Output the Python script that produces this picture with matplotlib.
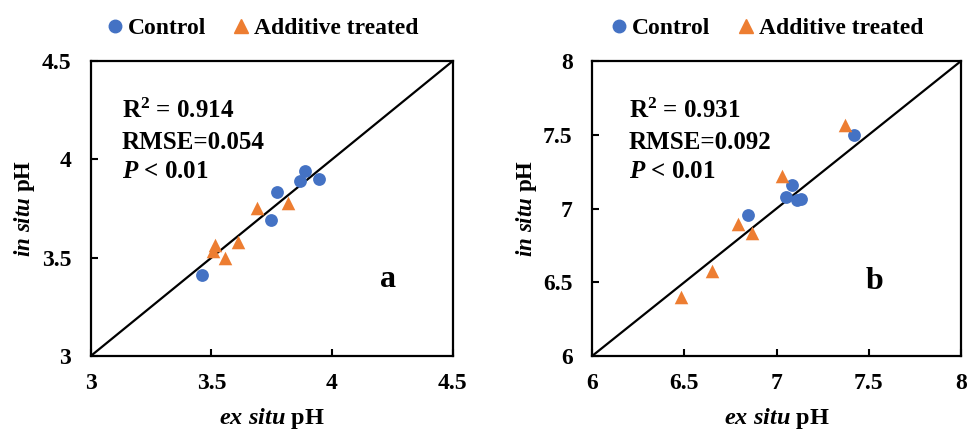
import matplotlib
matplotlib.use("Agg")
import matplotlib.pyplot as plt
from matplotlib.lines import Line2D

plt.rcParams['font.family'] = ['Liberation Serif', 'DejaVu Serif']
plt.rcParams['font.weight'] = 'bold'
plt.rcParams['mathtext.fontset'] = 'custom'
plt.rcParams['mathtext.rm'] = 'Liberation Serif:bold'
plt.rcParams['mathtext.it'] = 'Liberation Serif:bold:italic'
plt.rcParams['mathtext.bf'] = 'Liberation Serif:bold'

# Panel a data
a_ctrl_x = [3.46, 3.771, 3.746, 3.867, 3.888, 3.947]
a_ctrl_y = [3.412, 3.832, 3.691, 3.891, 3.940, 3.900]
a_add_x = [3.515, 3.505, 3.557, 3.609, 3.688, 3.819]
a_add_y = [3.565, 3.535, 3.497, 3.578, 3.754, 3.779]
a_ticks = [3, 3.5, 4, 4.5]
a_ticklabels = ['3', '3.5', '4', '4.5']
a_stats = ['R$^2$ = 0.914', 'RMSE=0.054', '$P$ < 0.01']

# Panel b data
b_ctrl_x = [7.422, 7.082, 7.051, 7.109, 7.131, 6.844]
b_ctrl_y = [7.497, 7.162, 7.075, 7.060, 7.065, 6.953]
b_add_x = [7.371, 7.031, 6.793, 6.866, 6.652, 6.482]
b_add_y = [7.565, 7.218, 6.895, 6.834, 6.577, 6.403]
b_ticks = [6, 6.5, 7, 7.5, 8]
b_ticklabels = ['6', '6.5', '7', '7.5', '8']
b_stats = ['R$^2$ = 0.931', 'RMSE=0.092', '$P$ < 0.01']

series_names = ['Control', 'Additive treated']
blue = '#4472C4'
orange = '#ED7D31'

fig = plt.figure(figsize=(9.69, 4.30), dpi=100)
ax1 = fig.add_axes([0.0936, 0.172, 0.3736, 0.686])
ax2 = fig.add_axes([0.611, 0.172, 0.3807, 0.686])

panels = [
    (ax1, a_ctrl_x, a_ctrl_y, a_add_x, a_add_y, a_ticks, a_ticklabels, a_stats, 'a', (0.80, 0.258), 0.086),
    (ax2, b_ctrl_x, b_ctrl_y, b_add_x, b_add_y, b_ticks, b_ticklabels, b_stats, 'b', (0.742, 0.252), 0.10),
]

for ax, cx, cy, tx, ty, ticks, tlabels, stats, letter, lpos, sx in panels:
    lo, hi = ticks[0], ticks[-1]
    ax.plot([lo, hi], [lo, hi], color='black', lw=1.6, zorder=1)
    ax.scatter(cx, cy, s=85, marker='o', color=blue, zorder=3, linewidths=0)
    ax.scatter(tx, ty, s=95, marker='^', color=orange, zorder=3, linewidths=0)
    ax.set_xlim(lo, hi)
    ax.set_ylim(lo, hi)
    ax.set_xticks(ticks)
    ax.set_yticks(ticks)
    ax.set_xticklabels(tlabels)
    ax.set_yticklabels(tlabels)
    ax.tick_params(direction='in', length=5, width=1.5, labelsize=17,
                   top=False, right=False)
    ax.tick_params(axis='y', pad=14)
    ax.tick_params(axis='x', pad=12.5)
    for lab in ax.get_xticklabels() + ax.get_yticklabels():
        lab.set_fontweight('bold')
    for sp in ax.spines.values():
        sp.set_linewidth(1.6)
        sp.set_color('black')
    ax.set_xlabel('$ex\\ situ$ pH', fontsize=17.5, fontweight='bold', labelpad=8)
    ax.set_ylabel('$in\\ situ$ pH', fontsize=16.5, fontweight='bold', labelpad=3)
    for i, s in enumerate(stats):
        ax.text(sx, [0.83, 0.725, 0.625][i], s, transform=ax.transAxes,
                fontsize=18, fontweight='bold', va='center', ha='left')
    ax.text(lpos[0], lpos[1], letter, transform=ax.transAxes, fontsize=23,
            fontweight='bold', va='center', ha='left')
    handles = [
        Line2D([], [], marker='o', color=blue, ls='none', markersize=9),
        Line2D([], [], marker='^', color=orange, ls='none', markersize=10),
    ]
    leg = ax.legend(handles, series_names, loc='lower center', bbox_to_anchor=(0.47, 1.034),
                    ncol=2, frameon=False, handletextpad=0.05, columnspacing=1.0,
                    handlelength=1.0, borderaxespad=0.1,
                    prop={'family': 'Liberation Serif', 'weight': 'bold', 'size': 17})

fig.savefig('out.png', dpi=100)
